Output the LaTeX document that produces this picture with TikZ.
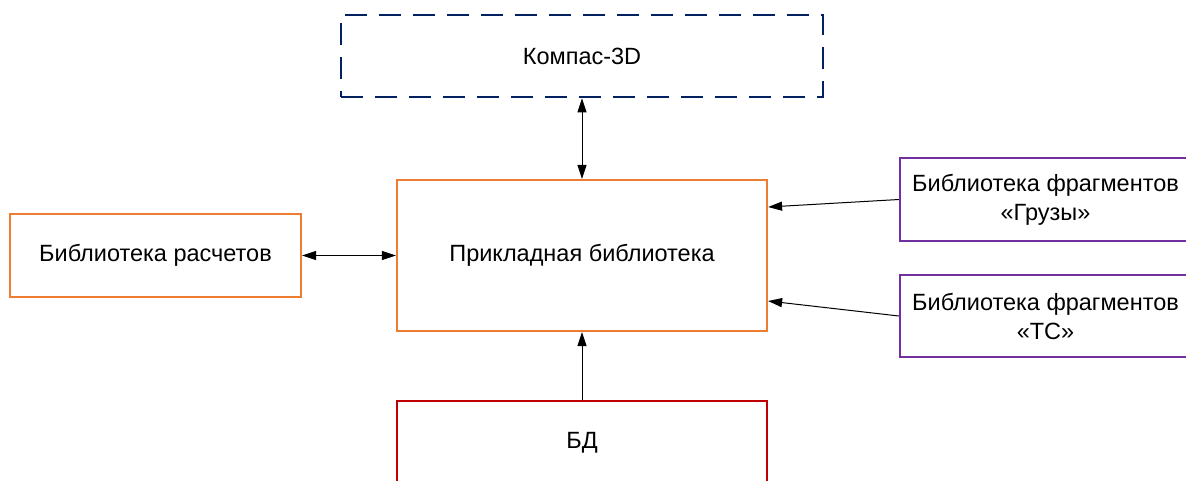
\documentclass[tikz,border=0pt]{standalone}
\usepackage{fontspec}
\setmainfont{Liberation Sans}
\usepackage{xcolor}
\usepackage{tikz}
\usetikzlibrary{arrows.meta}
\definecolor{boxorange}{HTML}{ED7D31}
\definecolor{boxpurple}{HTML}{7030A0}
\definecolor{boxred}{HTML}{C00000}
\definecolor{boxnavy}{HTML}{002060}
\tikzset{
    boxnode/.style = {align=center, inner sep=0pt, text centered, rectangle, font=\fontsize{23.5}{29}\selectfont},
    orange_box/.style = {boxnode, draw=boxorange, line width=2.2pt},
    purple_box/.style = {boxnode, draw=boxpurple, line width=2.2pt},
    red_box/.style = {boxnode, draw=boxred, line width=2.5pt},
    navy_box/.style = {boxnode, draw=boxnavy, line width=2.5pt, dash pattern=on 22pt off 12pt}
}

\begin{document}
\begin{tikzpicture}
            [x=1pt, y=-1pt, >={Triangle[length=14pt,width=9pt]},
            link/.style={black, line width=1pt}]

            \useasboundingbox (0,0) rectangle (1186,480);
            \clip (0,0) rectangle (1186,480);

            \node (kompas) [navy_box, minimum width=482pt, minimum height=82pt] at (582,56) {Компас-3D};
            \node (prikl) [orange_box, minimum width=370pt, minimum height=151pt] at (582,255.5) {Прикладная библиотека};
            \node (raschet) [orange_box, minimum width=291pt, minimum height=83pt] at (155.5,255.5) {Библиотека расчетов};
            \node (gruzy) [purple_box, minimum width=291pt, minimum height=83pt] at (1045.5,199.5) {Библиотека фрагментов\\«Грузы»};
            \node (ts) [purple_box, minimum width=291pt, minimum height=82pt] at (1045.5,316) {Библиотека фрагментов\\«ТС»};
            \node (bd) [red_box, minimum width=370pt, minimum height=83pt] at (582,442.5) {БД};

            \draw [link, <->] (kompas) -- (prikl);
            \draw [link, <->] (raschet) -- (prikl);
            \draw [link, ->] (gruzy.west) -- ([yshift=48.5pt]prikl.east);
            \draw [link, ->] (ts.west) -- ([yshift=-45.5pt]prikl.east);
            \draw [link, ->] (bd) -- (prikl);
\end{tikzpicture}
\end{document}
